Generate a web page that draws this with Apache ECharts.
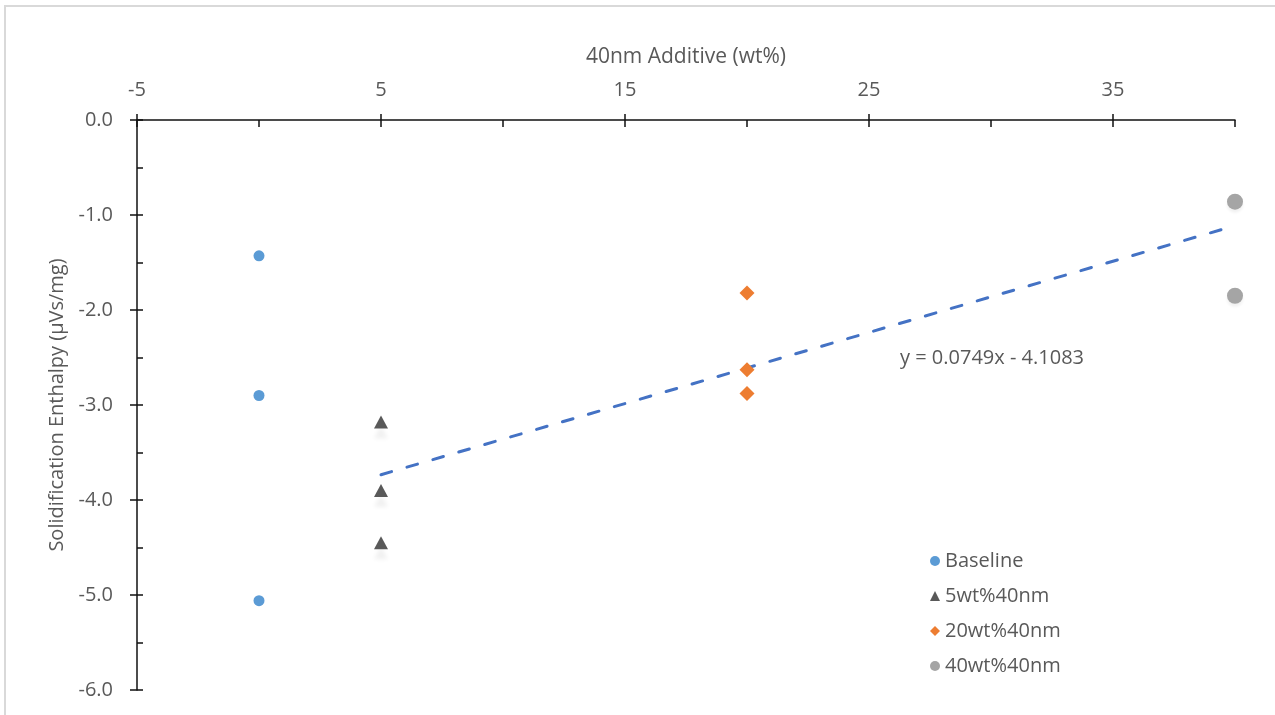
<!DOCTYPE html>
<html>
<head>
<meta charset="utf-8">
<script src="https://cdn.jsdelivr.net/npm/echarts@6/dist/echarts.min.js"></script>
<style>
  html, body { margin: 0; padding: 0; background: #fff; }
  #chart { width: 1275px; height: 715px; }
</style>
</head>
<body>
<div id="chart"></div>
<script>
// Solidification enthalpy per additive loading
const baselineX = [0, 0, 0];
const baselineY = [-1.43, -2.90, -5.06];
const wt5X = [5, 5, 5];
const wt5Y = [-3.18, -3.90, -4.45];
const wt20X = [20, 20, 20];
const wt20Y = [-1.82, -2.63, -2.88];
const wt40X = [40, 40];
const wt40Y = [-0.86, -1.85];

// Linear fit across the additive samples
const trendSlope = 0.0749;
const trendIntercept = -4.1083;
const trendRange = [5, 40];

const seriesNames = ['Baseline', '5wt%40nm', '20wt%40nm', '40wt%40nm'];
const xAxisTitle = '40nm Additive (wt%)';
const yAxisTitle = 'Solidification Enthalpy (\u00b5Vs/mg)';

const xMin = -5, xMax = 40, xMajor = 10, xMinor = 5;
const yMin = -6, yMax = 0, yMajor = 1, yMinor = 0.5;

const pairs = (xs, ys) => xs.map((x, i) => [x, ys[i]]);
const trendData = trendRange.map(x => [x, trendSlope * x + trendIntercept]);
const trendLabel = 'y = ' + trendSlope.toFixed(4) + 'x - ' + Math.abs(trendIntercept).toFixed(4);

const FONT = '"Open Sans", sans-serif';
const TXT = '#595959';
const AX = '#111111';

const chart = echarts.init(document.getElementById('chart'), null, { renderer: 'canvas' });

const gridBox = { left: 137, right: 40, top: 120, bottom: 25 };

chart.setOption({
  animation: false,
  backgroundColor: '#ffffff',
  textStyle: { fontFamily: FONT },
  grid: [
    Object.assign({ containLabel: false }, gridBox),
    Object.assign({ containLabel: false }, gridBox)
  ],
  xAxis: [
    {
      type: 'value', gridIndex: 0, position: 'top',
      min: xMin, max: xMax, interval: xMajor,
      name: xAxisTitle, nameLocation: 'middle', nameGap: 52,
      nameTextStyle: { color: TXT, fontSize: 21, fontFamily: FONT },
      axisLine: { show: true, onZero: false, lineStyle: { color: AX, width: 1.5 } },
      axisTick: { show: true, inside: false, length: 6, lineStyle: { color: AX, width: 1.5 } },
      axisLabel: {
        color: TXT, fontSize: 20, fontFamily: FONT, margin: 20,
        showMaxLabel: false,
        formatter: v => (((v - xMin) % xMajor) === 0 ? String(v) : '')
      },
      splitLine: { show: false }
    },
    {
      type: 'value', gridIndex: 1, position: 'top',
      min: xMin, max: xMax, interval: xMinor,
      axisLine: { show: false, onZero: false },
      axisTick: { show: true, inside: true, length: 7, lineStyle: { color: AX, width: 1.5 } },
      axisLabel: { show: false },
      splitLine: { show: false }
    }
  ],
  yAxis: [
    {
      type: 'value', gridIndex: 0, position: 'left',
      min: yMin, max: yMax, interval: yMajor,
      name: yAxisTitle, nameLocation: 'middle', nameGap: 69,
      nameTextStyle: { color: TXT, fontSize: 20, fontFamily: FONT },
      axisLine: { show: true, onZero: false, lineStyle: { color: AX, width: 1.5 } },
      axisTick: { show: true, inside: false, length: 7, lineStyle: { color: AX, width: 1.5 } },
      axisLabel: {
        color: TXT, fontSize: 20, fontFamily: FONT, margin: 24,
        formatter: v => v.toFixed(1)
      },
      splitLine: { show: false }
    },
    {
      type: 'value', gridIndex: 1, position: 'left',
      min: yMin, max: yMax, interval: yMinor,
      axisLine: { show: false, onZero: false },
      axisTick: { show: true, inside: true, length: 6, lineStyle: { color: AX, width: 1.5 } },
      axisLabel: { show: false },
      splitLine: { show: false }
    }
  ],
  legend: {
    orient: 'vertical',
    left: 925, top: 546,
    itemGap: 15,
    itemWidth: 10, itemHeight: 10,
    textStyle: { color: TXT, fontSize: 20, fontFamily: FONT },
    data: [
      { name: seriesNames[0], icon: 'circle', itemStyle: { color: '#5B9BD5', opacity: 1 } },
      { name: seriesNames[1], icon: 'triangle', itemStyle: { color: '#595959', opacity: 1 } },
      { name: seriesNames[2], icon: 'diamond', itemStyle: { color: '#ED7D31', opacity: 1 } },
      { name: seriesNames[3], icon: 'circle', itemStyle: { color: '#A5A5A5', opacity: 1 } }
    ]
  },
  series: [
    {
      name: 'trend', type: 'line', xAxisIndex: 0, yAxisIndex: 0,
      data: trendData, symbol: 'none', silent: true,
      lineStyle: { color: '#4472C4', width: 3, type: [11, 16], cap: 'round' },
      z: 2
    },
    {
      name: seriesNames[0], type: 'scatter', xAxisIndex: 0, yAxisIndex: 0,
      data: pairs(baselineX, baselineY), symbol: 'circle', symbolSize: 11,
      itemStyle: { color: '#5B9BD5', opacity: 1 }, z: 3
    },
    {
      name: seriesNames[1], type: 'scatter', xAxisIndex: 0, yAxisIndex: 0,
      data: pairs(wt5X, wt5Y), symbol: 'triangle', symbolSize: [14, 13],
      itemStyle: { color: '#595959', opacity: 1, shadowColor: 'rgba(0,0,0,0.06)', shadowBlur: 4, shadowOffsetY: 10 }, z: 3
    },
    {
      name: seriesNames[2], type: 'scatter', xAxisIndex: 0, yAxisIndex: 0,
      data: pairs(wt20X, wt20Y), symbol: 'diamond', symbolSize: [15, 15],
      itemStyle: { color: '#ED7D31', opacity: 1 }, z: 3
    },
    {
      name: seriesNames[3], type: 'scatter', xAxisIndex: 0, yAxisIndex: 0,
      data: pairs(wt40X, wt40Y), symbol: 'circle', symbolSize: 16,
      itemStyle: { color: '#A5A5A5', opacity: 1, shadowColor: 'rgba(0,0,0,0.06)', shadowBlur: 3, shadowOffsetY: 3 }, z: 3
    }
  ],
  graphic: [
    {
      type: 'rect', silent: true, z: -1,
      shape: { x: 5, y: 6, width: 1400, height: 900 },
      style: { fill: 'none', stroke: '#d9d9d9', lineWidth: 2 }
    },
    {
      type: 'text', silent: true,
      left: 900, top: 348,
      style: { text: trendLabel, fill: TXT, fontSize: 20, fontFamily: FONT }
    }
  ]
});
</script>
</body>
</html>
